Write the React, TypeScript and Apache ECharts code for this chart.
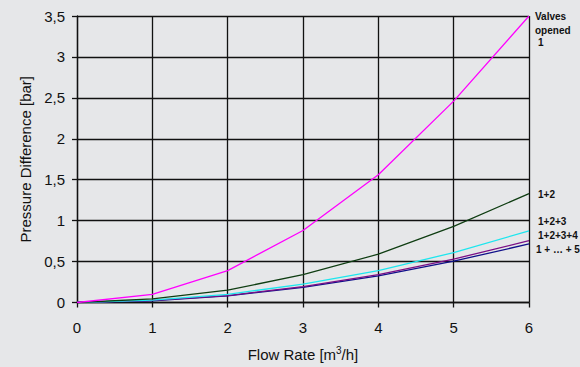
import React, { useEffect, useRef } from "react";
import * as echarts from "echarts";

const flowRate = [0, 1, 2, 3, 4, 5, 6];
const valves1 = [0, 0.1, 0.39, 0.88, 1.56, 2.46, 3.5];
const valves12 = [0, 0.045, 0.15, 0.34, 0.59, 0.93, 1.33];
const valves123 = [0, 0.03, 0.1, 0.225, 0.39, 0.61, 0.875];
const valves1234 = [0, 0.025, 0.085, 0.195, 0.34, 0.53, 0.755];
const valves12345 = [0, 0.02, 0.08, 0.185, 0.325, 0.505, 0.715];

const seriesNames = ["1", "1+2", "1+2+3", "1+2+3+4", "1 + … + 5"];
const seriesColors = ["#ff00ff", "#0f3d12", "#1ee6ee", "#7a0f86", "#10108a"];
const seriesData = [valves1, valves12, valves123, valves1234, valves12345];

const FONT = "'Liberation Sans', Arial, sans-serif";

export default function App() {
  const ref = useRef<HTMLDivElement>(null);
  useEffect(() => {
    if (!ref.current) return;
    const chart = echarts.init(ref.current, undefined, { renderer: "svg" });
    const lineStyleAxis = { color: "#111", width: 1.3 };
    const labelStyle = { fontFamily: FONT, fontSize: 10, fontWeight: "bold" as const, fill: "#111" };
    chart.setOption({
      animation: false,
      backgroundColor: "#e6e7e9",
      grid: { left: 77, right: 51, top: 16, bottom: 58, containLabel: false },
      xAxis: {
        type: "value",
        min: 0,
        max: 6,
        interval: 1,
        name: "Flow Rate [m{sup|3}/h]",
        nameLocation: "middle",
        nameGap: 43,
        nameTextStyle: {
          fontFamily: FONT,
          fontSize: 15,
          color: "#111",
          rich: { sup: { fontSize: 10, verticalAlign: "top", padding: [0, 0, 8, 0], fontFamily: FONT, color: "#111" } },
        },
        axisLine: { show: true, lineStyle: lineStyleAxis },
        axisTick: { show: true, length: 5, lineStyle: lineStyleAxis },
        axisLabel: { fontFamily: FONT, fontSize: 15, color: "#111", margin: 17 },
        splitLine: { show: true, lineStyle: lineStyleAxis },
      },
      yAxis: {
        type: "value",
        min: 0,
        max: 3.5,
        interval: 0.5,
        name: "Pressure Difference [bar]",
        nameLocation: "middle",
        nameGap: 43,
        nameRotate: 90,
        nameTextStyle: { fontFamily: FONT, fontSize: 15, color: "#111" },
        axisLine: { show: true, lineStyle: lineStyleAxis },
        axisTick: { show: true, length: 5, lineStyle: lineStyleAxis },
        axisLabel: {
          fontFamily: FONT,
          fontSize: 15,
          color: "#111",
          margin: 12,
          formatter: (v: number) => String(v).replace(".", ","),
        },
        splitLine: { show: true, lineStyle: lineStyleAxis },
      },
      series: seriesData.map((d, i) => ({
        type: "line",
        name: seriesNames[i],
        data: d.map((v, j) => [flowRate[j], v]),
        symbol: "none",
        lineStyle: { color: seriesColors[i], width: 1.3 },
        z: 3 + (seriesData.length - i),
      })),
      graphic: [
        { type: "text", left: 535, top: 10, style: { ...labelStyle, text: "Valves\nopened", lineHeight: 13.5 } },
        { type: "text", left: 538, top: 37, style: { ...labelStyle, text: "1" } },
        { type: "text", left: 538, top: 189, style: { ...labelStyle, text: "1+2" } },
        { type: "text", left: 538, top: 216, style: { ...labelStyle, text: "1+2+3" } },
        { type: "text", left: 538, top: 230, style: { ...labelStyle, text: "1+2+3+4" } },
        { type: "text", left: 536, top: 244, style: { ...labelStyle, text: "1 + … + 5" } },
      ],
    });
    return () => chart.dispose();
  }, []);
  return <div ref={ref} style={{ width: 580, height: 367, position: "absolute", left: 0, top: 0 }} />;
}
